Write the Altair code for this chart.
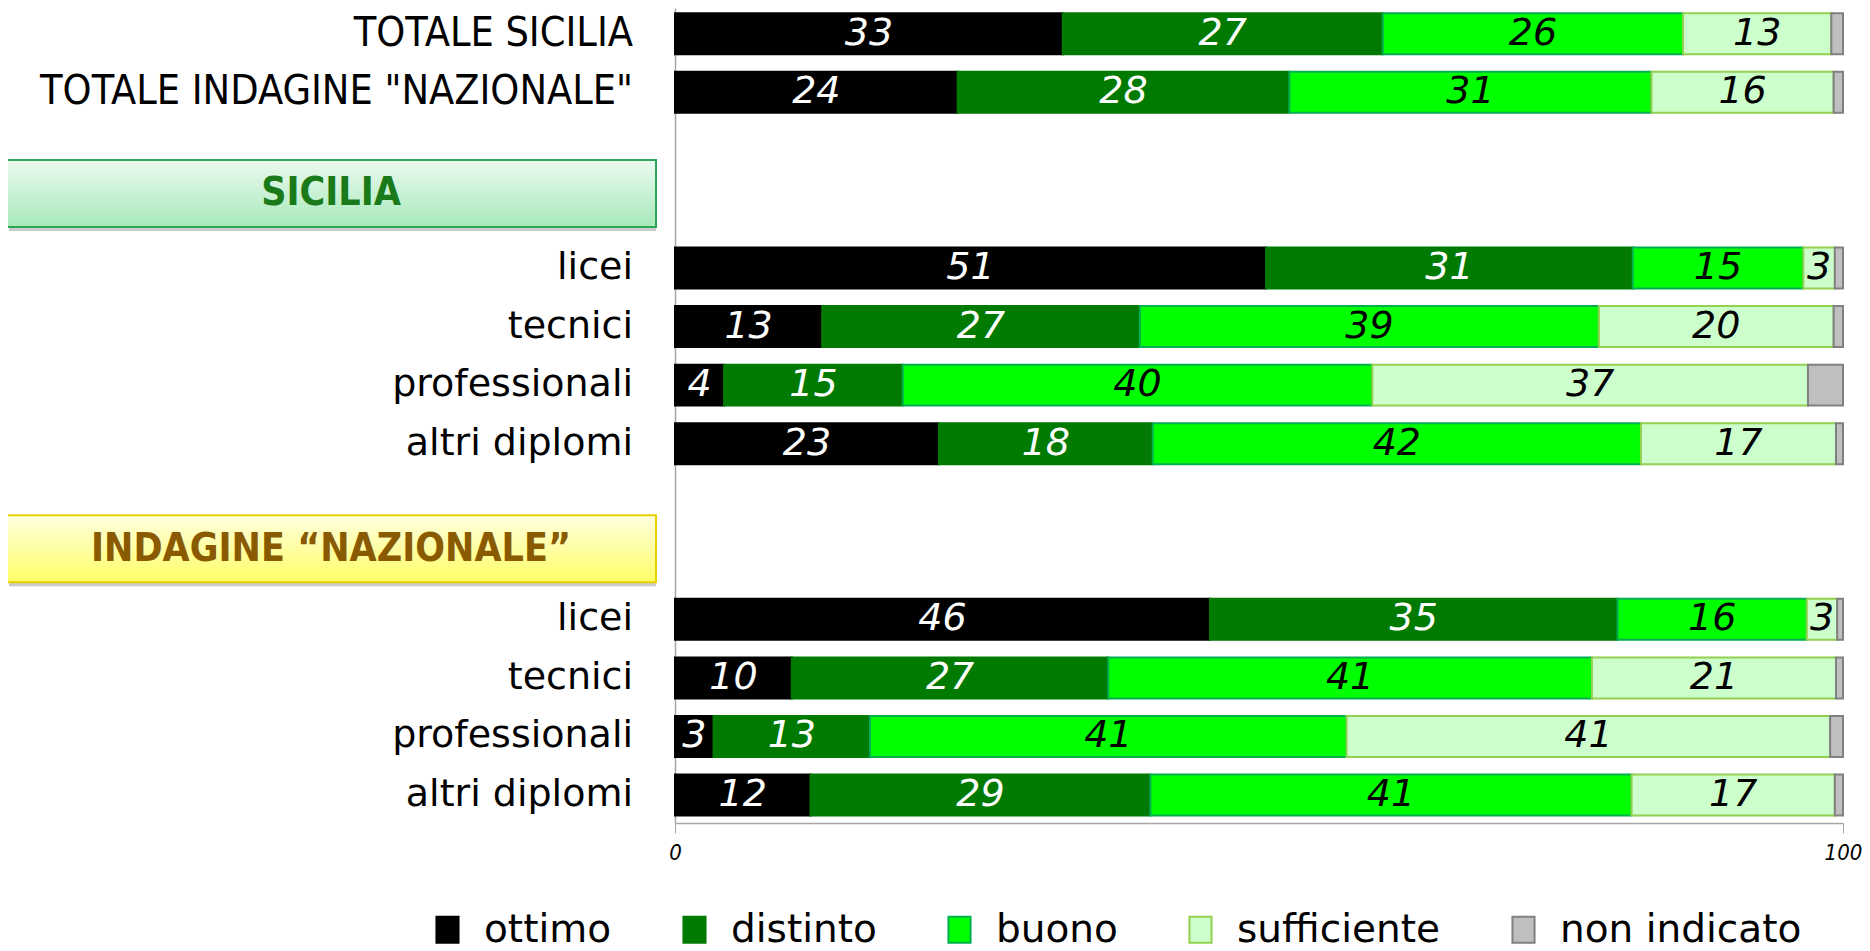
import altair as alt
import pandas as pd

categories = ["ottimo", "distinto", "buono", "sufficiente", "non indicato"]
fills = ["#000000", "#007a00", "#00ff00", "#ccffcc", "#bfbfbf"]
strokes = ["#000000", "#007a00", "#00b050", "#92d050", "#808080"]

row_keys = ["TS", "TN", "S1", "S2", "S3", "S4", "N1", "N2", "N3", "N4"]
row_labels = ["TOTALE SICILIA", 'TOTALE INDAGINE "NAZIONALE"',
              "licei", "tecnici", "professionali", "altri diplomi",
              "licei", "tecnici", "professionali", "altri diplomi"]
row_kind = ["tot", "tot", "sub", "sub", "sub", "sub", "sub", "sub", "sub", "sub"]

ottimo = [33.2, 24.2, 50.6, 12.6, 4.2, 22.6, 45.8, 10.0, 3.3, 11.6]
distinto = [27.4, 28.4, 31.4, 27.2, 15.3, 18.3, 34.9, 27.1, 13.4, 29.1]
buono = [25.7, 31.0, 14.6, 39.3, 40.2, 41.8, 16.2, 41.4, 40.8, 41.2]
sufficiente = [12.7, 15.6, 2.7, 20.1, 37.3, 16.7, 2.6, 20.9, 41.4, 17.4]
non_indicato = [1.0, 0.8, 0.7, 0.8, 3.0, 0.6, 0.5, 0.6, 1.1, 0.7]

domain_keys = ["TS", "TN", "G1", "G2", "S1", "S2", "S3", "S4",
               "G3", "G4", "N1", "N2", "N3", "N4"]

header_keys = ["G2", "G4"]
header_labels = ["SICILIA", "INDAGINE \u201cNAZIONALE\u201d"]

series = [ottimo, distinto, buono, sufficiente, non_indicato]
records = []
for i, k in enumerate(row_keys):
    for j, c in enumerate(categories):
        records.append({"key": k, "cat": c, "order": j, "value": series[j][i]})
df = pd.DataFrame(records)
rows_df = pd.DataFrame({"key": row_keys, "label": row_labels, "kind": row_kind})

NARROW = "Liberation Sans Narrow, Arial Narrow, DejaVu Sans Condensed, sans-serif"
SANS = "DejaVu Sans, Verdana, sans-serif"
AXIS_GRAY = "#a6a6a6"

Y = alt.Y("key:N",
          scale=alt.Scale(domain=domain_keys, paddingInner=0.30,
                          paddingOuter=0.109, align=0.414),
          axis=alt.Axis(labels=False, ticks=False, title=None, grid=False,
                        domainColor=AXIS_GRAY, domainWidth=1.5))

base = (alt.Chart(df)
        .transform_stack(stack="value", groupby=["key"],
                         sort=[alt.SortField("order", order="ascending")],
                         as_=["x0", "x1"])
        .transform_calculate(mid="(datum.x0 + datum.x1) / 2"))

bars = base.mark_bar(strokeWidth=2).encode(
    y=Y,
    x=alt.X("x0:Q", scale=alt.Scale(domain=[0, 100], nice=False, zero=True),
            axis=alt.Axis(values=[0, 100], title=None, grid=False,
                          labelFontStyle="italic", labelFontSize=22,
                          labelFont=NARROW, labelColor="#000000",
                          labelFlush=False, labelBound=False,
                          tickSize=10, tickColor=AXIS_GRAY,
                          domainColor=AXIS_GRAY, domainWidth=1.5,
                          labelPadding=9)),
    x2="x1:Q",
    color=alt.Color("cat:N", scale=alt.Scale(domain=categories, range=fills),
                    legend=alt.Legend(title=None)),
    stroke=alt.Stroke("cat:N", scale=alt.Scale(domain=categories, range=strokes),
                      legend=alt.Legend(title=None)),
)

values = base.transform_filter("datum.cat != 'non indicato'").mark_text(
    font=SANS, fontSize=38, fontStyle="italic", baseline="middle", align="center"
).encode(
    y=Y,
    x=alt.X("mid:Q"),
    text=alt.Text("value:Q", format=".0f"),
    color=alt.condition("datum.order < 2", alt.value("#ffffff"), alt.value("#000000")),
)

lab_tot = alt.Chart(rows_df).transform_filter("datum.kind == 'tot'").mark_text(
    font=NARROW, fontSize=41, align="right", baseline="middle", color="#000000"
).encode(y=Y, x=alt.value(-42), text="label:N")

lab_sub = alt.Chart(rows_df).transform_filter("datum.kind == 'sub'").mark_text(
    font=SANS, fontSize=38, align="right", baseline="middle", color="#000000"
).encode(y=Y, x=alt.value(-42), text="label:N")

green_grad = alt.LinearGradient(
    gradient="linear", x1=0, x2=0, y1=0, y2=1,
    stops=[alt.GradientStop(color="#ecfaef", offset=0),
           alt.GradientStop(color="#a6e9ba", offset=1)])
yellow_grad = alt.LinearGradient(
    gradient="linear", x1=0, x2=0, y1=0, y2=1,
    stops=[alt.GradientStop(color="#ffffe0", offset=0),
           alt.GradientStop(color="#ffff66", offset=1)])

hdr_s = alt.Chart(pd.DataFrame({"key": [header_keys[0]], "label": [header_labels[0]]}))
hdr_n = alt.Chart(pd.DataFrame({"key": [header_keys[1]], "label": [header_labels[1]]}))

def header(chart, off, grad, border, tcolor):
    shadow = chart.mark_bar(orient="horizontal", height=67, yOffset=off + 4,
                            xOffset=2, fill="#8c8c8c", opacity=0.45).encode(
        y=Y, x=alt.value(-668), x2=alt.value(-19))
    box = chart.mark_bar(orient="horizontal", height=67, yOffset=off,
                         fill=grad, stroke=border, strokeWidth=2).encode(
        y=Y, x=alt.value(-669), x2=alt.value(-19))
    txt = chart.mark_text(font=NARROW, fontSize=39, fontWeight="bold",
                          color=tcolor, yOffset=off, align="center",
                          baseline="middle").encode(
        y=Y, x=alt.value(-344), text="label:N")
    return [shadow, box, txt]

layers = [bars, values, lab_tot, lab_sub]
layers += header(hdr_s, -16, green_grad, "#2fa55a", "#1a7a1a")
layers += header(hdr_n, -12, yellow_grad, "#e6d000", "#8a5a00")

chart = alt.layer(*layers).properties(
    width=1168, height=815,
    autosize="none",
    padding={"left": 667, "top": 0, "right": 19, "bottom": 128},
).configure_view(stroke=None).configure_legend(
    orient="none", legendX=-247, legendY=902, direction="horizontal",
    labelFont=SANS, labelFontSize=39, labelColor="#000000", labelLimit=0,
    symbolType="M-0.85,-1H0.85V1H-0.85Z", symbolSize=676,
    symbolStrokeWidth=2, labelOffset=17, columnPadding=63, padding=0,
)

chart.save("out.html", embed_options={"renderer": "svg", "actions": False})
